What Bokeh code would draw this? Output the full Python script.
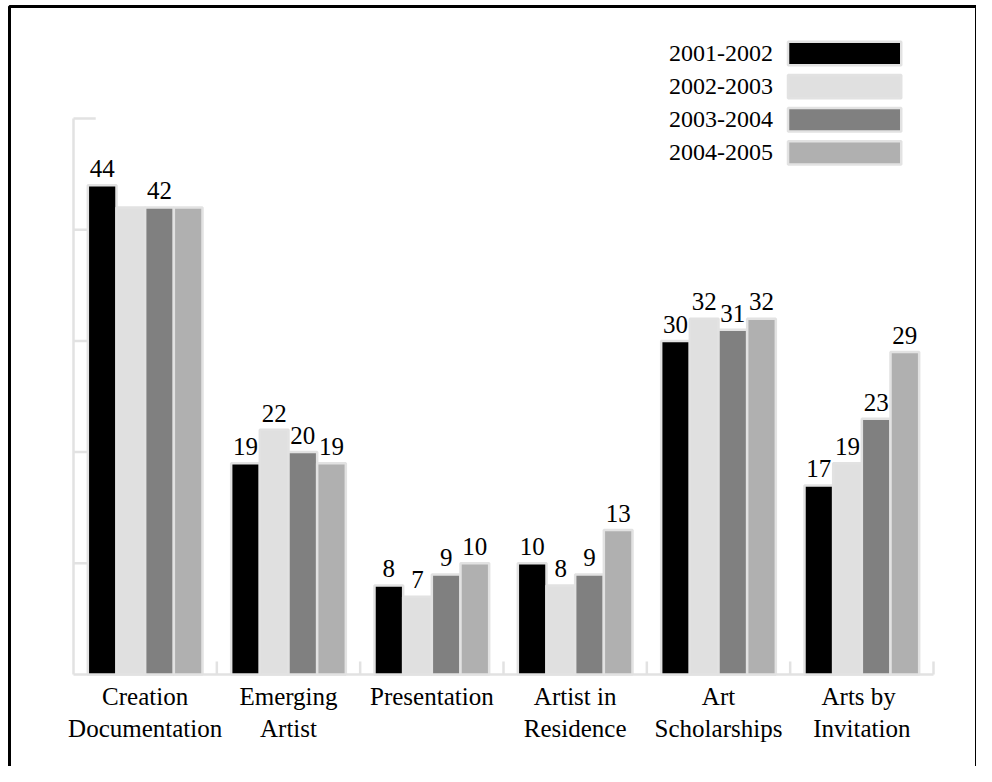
from bokeh.plotting import figure
from bokeh.models import Range1d
from bokeh.core.properties import value
from bokeh.embed import file_html
from bokeh.resources import INLINE

# ---- data ----
categories = ["Creation\nDocumentation", "Emerging\nArtist", "Presentation",
              "Artist in\nResidence", "Art\nScholarships", "Arts  by\nInvitation"]
series_names = ["2001-2002", "2002-2003", "2003-2004", "2004-2005"]
s2001 = [44, 19, 8, 10, 30, 17]
s2002 = [42, 22, 7, 8, 32, 19]
s2003 = [42, 20, 9, 9, 31, 23]
s2004 = [42, 19, 10, 13, 32, 29]
# which bars carry a value label
show2001 = [True, True, True, True, True, True]
show2002 = [False, True, True, True, True, True]
show2003 = [True, True, True, True, True, True]
show2004 = [False, True, True, True, True, True]
y_ticks = [10, 20, 30, 40, 50]

series = [s2001, s2002, s2003, s2004]
shows = [show2001, show2002, show2003, show2004]
colors = ["#000000", "#e0e0e0", "#808080", "#b0b0b0"]
edge = "#e2e2e2"
FONT = "Liberation Serif"

W, H = 976, 766
p = figure(width=W, height=H, output_backend="svg", toolbar_location=None,
           x_range=Range1d(-0.5093, 6.3), y_range=Range1d(-8.273, 60.612),
           x_axis_location=None, y_axis_location=None, min_border=0)
p.grid.visible = False
p.outline_line_color = None
p.background_fill_color = "white"
p.border_fill_color = "white"

n = len(categories)
ymax = max(y_ticks)

# axes drawn from the data extents
p.segment(x0=[0, 0], y0=[0, 0], x1=[n, 0], y1=[0, ymax], line_color=edge, line_width=2.5)
p.segment(x0=[0] * len(y_ticks), y0=y_ticks, x1=[0.155] * len(y_ticks), y1=y_ticks,
          line_color=edge, line_width=2.5)
bounds = list(range(1, n + 1))
p.segment(x0=bounds, y0=[0] * len(bounds), x1=bounds, y1=[1.17] * len(bounds),
          line_color=edge, line_width=2.5)

# bars
bw = 0.2
for k, (vals, col, show) in enumerate(zip(series, colors, shows)):
    xs = [i + 0.1 + bw * k + bw / 2 for i in range(n)]
    p.vbar(x=xs, top=vals, bottom=0, width=bw, fill_color=col,
           line_color=edge, line_width=2.5)
    lx = [x for x, s in zip(xs, show) if s]
    lv = [v for v, s in zip(vals, show) if s]
    p.text(x=lx, y=[v + 1.5 for v in lv], text=[str(v) for v in lv],
           text_font=value(FONT), text_font_size="25px", text_align="center",
           text_baseline="alphabetic", text_color="black")

# category labels
p.text(x=[i + 0.5 for i in range(n)], y=[-0.77] * n, text=categories,
       text_font=value(FONT), text_font_size="25px", text_align="center",
       text_baseline="top", text_line_height=1.17, text_color="black")

# legend
leg_top = 55.85
leg_step = 2.98
leg_y = [leg_top - leg_step * k for k in range(len(series_names))]
p.rect(x=[5.38] * 4, y=leg_y, width=0.79, height=2.1, fill_color=colors,
       line_color=edge, line_width=2.5)
p.text(x=[4.88] * 4, y=leg_y, text=series_names, text_font=value(FONT),
       text_font_size="24px", text_align="right", text_baseline="middle",
       text_color="black")

# border (left, top, right)
x0, x1 = -0.4465, p.x_range.end
y0, y1 = p.y_range.start, 60.07
p.line(x=[x0, x0, x1, x1], y=[y0, y1, y1, y0], line_color="black", line_width=3)

open("out.html", "w").write(file_html(p, INLINE))
